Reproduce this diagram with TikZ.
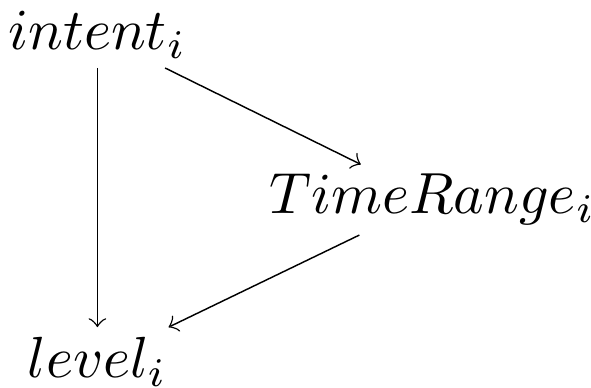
\documentclass[tikz,border=0pt]{standalone}
\usetikzlibrary{positioning}

\begin{document}
\begin{tikzpicture}[
    var/.style={inner sep=1.5pt},
    arrow/.style={->, line width=0.25pt}
]
    \useasboundingbox (0,0) rectangle (3.58,-2.35);
    \node[var] (intent) at (0.59,-0.21) {$intent_i$};
    \node[var] (range) at (2.62,-1.21) {$TimeRange_i$};
    \node[var, below=1.57cm of intent] (level) {$level_i$};

    \draw[arrow] (intent) -- (level);
    \draw[arrow] (intent) -- (range);
    \draw[arrow] (range) -- (level);
\end{tikzpicture}
\end{document}
